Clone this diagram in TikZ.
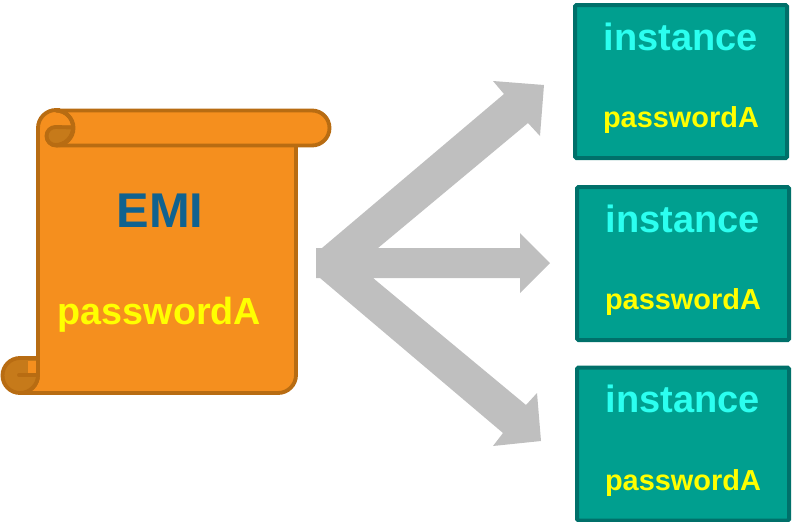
\documentclass[tikz,border=0pt]{standalone}
\usepackage{fontspec}
\setmainfont{Liberation Sans}
\definecolor{scrollfill}{HTML}{F58F1E}
\definecolor{scrollline}{HTML}{B86C12}
\definecolor{scrolldark}{HTML}{C67A1A}
\definecolor{boxfill}{HTML}{009F8F}
\definecolor{boxline}{HTML}{00706A}
\definecolor{insttext}{HTML}{2BFFF0}
\definecolor{pwtext}{HTML}{FFFF00}
\definecolor{emitext}{HTML}{10628F}
\definecolor{arrowgrey}{HTML}{BFBFBF}
\tikzset{
  scrollpart/.style={draw=scrollline,line width=2.9pt,fill=scrollfill,line join=round},
  scrolldarkpart/.style={draw=scrollline,line width=2.9pt,fill=scrolldark,line join=round},
  instbox/.style={draw=boxline,line width=3pt,fill=boxfill,rounded corners=1pt,minimum width=159pt,minimum height=114.75pt,inner sep=0pt},
  insttitle/.style={text=insttext,font=\fontsize{28.5pt}{30pt}\selectfont\bfseries,inner sep=0pt},
  pwsmall/.style={text=pwtext,font=\fontsize{21.7pt}{23pt}\selectfont\bfseries,inner sep=0pt},
  pwbig/.style={text=pwtext,font=\fontsize{28.3pt}{30pt}\selectfont\bfseries,inner sep=0pt},
  emilabel/.style={text=emitext,font=\fontsize{36.6pt}{38pt}\selectfont\bfseries,inner sep=0pt},
  bigarrow/.style={fill=arrowgrey,draw=none}
}
\begin{document}
\begin{tikzpicture}[x=0.75pt,y=-0.75pt]
\useasboundingbox (0,0) rectangle (794,522);
% scroll body (open at the top, hidden by the band)
\path[scrollpart] (296,128) -- (296,375) arc[start angle=0,end angle=90,radius=18] -- (20,393)
  arc[start angle=90,end angle=0,radius=18] -- (38,128)
  arc[start angle=180,end angle=270,radius=18] -- (60,110);
% bottom curl
\path[scrolldarkpart] (20,393) arc[start angle=90,end angle=270,radius=17.5] -- (38,358) -- (38,375)
  arc[start angle=0,end angle=90,radius=18] -- cycle;
\path[fill=scrollfill] (28,361) rectangle (36.2,373);
\path[draw=scrollline,line width=2.9pt,line cap=round] (19,375) -- (36,375);
% top band
\path[scrollpart] (56,110.5) -- (312,110.5) arc[start angle=-90,end angle=90,radius=17.5] -- (56,145.5)
  arc[start angle=90,end angle=270,radius=9] -- (73,127.5) arc[start angle=0,end angle=-90,radius=17] -- cycle;
% top curl
\path[scrolldarkpart] (73,127.5) arc[start angle=0,end angle=90,radius=17.5] arc[start angle=90,end angle=270,radius=9] -- cycle;
\path[draw=scrollline,line width=2.9pt] (56,110.5) arc[start angle=-90,end angle=90,radius=17.5];
% arrows
\path[bigarrow] (316,248) -- (322,248) -- (504,94) -- (493,81) -- (544,85) -- (540,136) -- (528,123)
  -- (378,248) -- (520,248) -- (520,233) -- (550,263) -- (520,293) -- (520,278) -- (373,278)
  -- (526,405) -- (537,393) -- (541,441) -- (493,446) -- (503,433) -- (320,278) -- (316,278) -- cycle;
% texts
\node[emilabel] (emi) at (160,211) {EMI};
\node[pwbig] (pwmain) at (159.5,315) {passwordA};
% boxes
\foreach \nm/\cx/\cy in {a/681/81.5,b/683/263.5,c/683/444}{
  \node[instbox] (box\nm) at (\cx,\cy) {};
  \node[insttitle] (title\nm) at (\cx,\cy-45) {instance};
  \node[pwsmall] (pw\nm) at (\cx,\cy+39) {passwordA};
}
\end{tikzpicture}
\end{document}
